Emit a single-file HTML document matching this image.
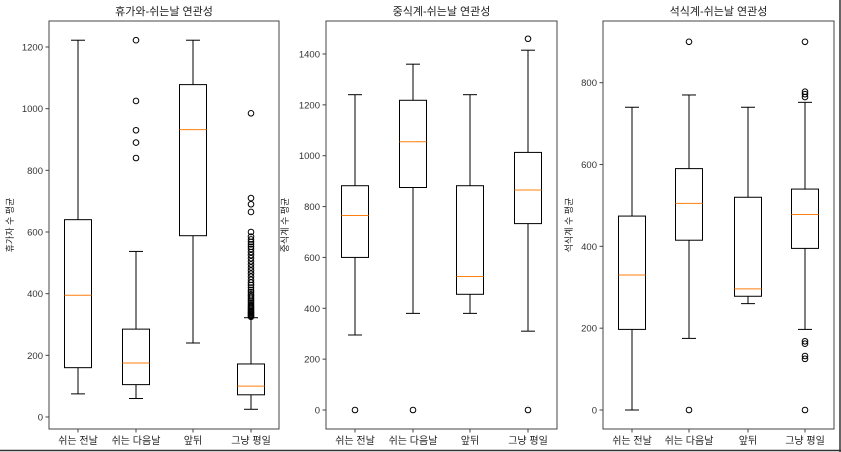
<!DOCTYPE html>
<html><head><meta charset="utf-8">
<style>
html,body{margin:0;padding:0;background:#fff;}
svg{display:block;font-family:"Liberation Sans","Noto Sans CJK KR",sans-serif;}
</style></head>
<body>
<svg id="chart" width="841" height="452" viewBox="0 0 841 452" xmlns="http://www.w3.org/2000/svg">
<rect x="0" y="0" width="841" height="452" fill="#fff"/>
<line x1="0" y1="450.5" x2="841" y2="450.5" stroke="#333" stroke-width="1.5"/>
<line x1="840" y1="0" x2="840" y2="452" stroke="#333" stroke-width="1.5"/>
</svg>
<script>
const categories = ["쉬는 전날","쉬는 다음날","앞뒤","그냥 평일"];
const titles = ["휴가와-쉬는날 연관성","중식계-쉬는날 연관성","석식계-쉬는날 연관성"];
const yTitles = ["휴가자 수 평균","중식계 수 평균","석식계 수 평균"];
// [low whisker, q1, median, q3, high whisker]
const stats1 = [[75,160,395,640,1222],[60,105,175,285,537],[240,588,932,1078,1222],[25,72,100,172,322]];
const stats2 = [[295,600,765,882,1240],[380,875,1055,1218,1360],[380,455,525,882,1240],[310,733,865,1013,1415]];
const stats3 = [[0,197,330,474,740],[175,415,505,590,770],[260,278,296,520,740],[197,395,478,540,752]];
const fliers1 = [[],[840,890,930,1025,1222],[],[325,328,331,334,337,340,344,348,352,356,360,365,370,375,380,386,392,398,405,412,420,428,436,445,455,465,475,485,495,505,515,525,535,545,552,560,568,576,585,600,665,690,710,985]];
const fliers2 = [[0],[0],[],[0,1460]];
const fliers3 = [[],[0,900],[],[0,125,132,162,168,765,772,778,900]];
const ticks1 = [0,200,400,600,800,1000,1200];
const ticks2 = [0,200,400,600,800,1000,1200,1400];
const ticks3 = [0,200,400,600,800];

const panels = [
 {x0:49,x1:279,y0:21,y1:429,zeroY:417,perUnit:370/1200,xs:[78,136,193,251],stats:stats1,fliers:fliers1,ticks:ticks1,ylx:13},
 {x0:326,x1:557,y0:21,y1:429,zeroY:410,perUnit:356/1400,xs:[355,413,470,528],stats:stats2,fliers:fliers2,ticks:ticks2,ylx:288},
 {x0:603,x1:834,y0:21,y1:429,zeroY:410,perUnit:327.3/800,xs:[632,689,748,805],stats:stats3,fliers:fliers3,ticks:ticks3,ylx:572}
];
const svg = document.getElementById('chart');
const NS = "http://www.w3.org/2000/svg";
function mk(tag, attrs){const e=document.createElementNS(NS,tag);for(const k in attrs)e.setAttribute(k,attrs[k]);return e;}

panels.forEach((p,pi)=>{
  const g = mk('g',{});
  
  
  svg.appendChild(g);
  const y = v => p.zeroY - v*p.perUnit;
  const frame = mk('rect',{x:p.x0,y:p.y0,width:p.x1-p.x0,height:p.y1-p.y0,fill:'none',stroke:'#444','stroke-width':1});
  
  
  g.appendChild(frame);
  const t = mk('text',{x:(p.x0+p.x1)/2,y:15,'text-anchor':'middle','font-size':11,fill:'#222'});
  t.textContent = titles[pi];
  
  
  g.appendChild(t);
  const yl = mk('text',{x:p.ylx,y:225,'text-anchor':'middle','font-size':9,fill:'#222',transform:'rotate(-90 '+p.ylx+' 225)'});
  yl.textContent = yTitles[pi];
  
  
  g.appendChild(yl);
  p.ticks.forEach(v=>{
    const ty=y(v);
    g.appendChild(mk('line',{x1:p.x0-3.5,y1:ty,x2:p.x0,y2:ty,stroke:'#444'}));
    const tl = mk('text',{x:p.x0-6,y:ty+3.5,'text-anchor':'end','font-size':9.5,fill:'#333'});
    tl.textContent = v;
    
    
    g.appendChild(tl);
  });
  categories.forEach((c,i)=>{
    const cx=p.xs[i];
    g.appendChild(mk('line',{x1:cx,y1:p.y1,x2:cx,y2:p.y1+3.5,stroke:'#444'}));
    const xl = mk('text',{x:cx,y:p.y1+15,'text-anchor':'middle','font-size':10,fill:'#222'});
    xl.textContent = c;
    
    
    g.appendChild(xl);
    const s=p.stats[i];
    const bg = mk('g',{});
    
    
    g.appendChild(bg);
    const hw=13.5, cw=7;
    bg.appendChild(mk('line',{x1:cx,y1:y(s[0]),x2:cx,y2:y(s[1]),stroke:'#000','stroke-width':1}));
    bg.appendChild(mk('line',{x1:cx,y1:y(s[3]),x2:cx,y2:y(s[4]),stroke:'#000','stroke-width':1}));
    bg.appendChild(mk('line',{x1:cx-cw,y1:y(s[0]),x2:cx+cw,y2:y(s[0]),stroke:'#000','stroke-width':1}));
    bg.appendChild(mk('line',{x1:cx-cw,y1:y(s[4]),x2:cx+cw,y2:y(s[4]),stroke:'#000','stroke-width':1}));
    bg.appendChild(mk('rect',{x:cx-hw,y:y(s[3]),width:2*hw,height:y(s[1])-y(s[3]),fill:'none',stroke:'#000','stroke-width':1}));
    bg.appendChild(mk('line',{x1:cx-hw,y1:y(s[2]),x2:cx+hw,y2:y(s[2]),stroke:'#ff7f0e','stroke-width':1}));
    p.fliers[i].forEach(v=>{
      const c2 = mk('circle',{cx:cx,cy:y(v),r:2.8,fill:'none',stroke:'#000','stroke-width':1});
      
      
      bg.appendChild(c2);
    });
  });
});
</script>
</body></html>
